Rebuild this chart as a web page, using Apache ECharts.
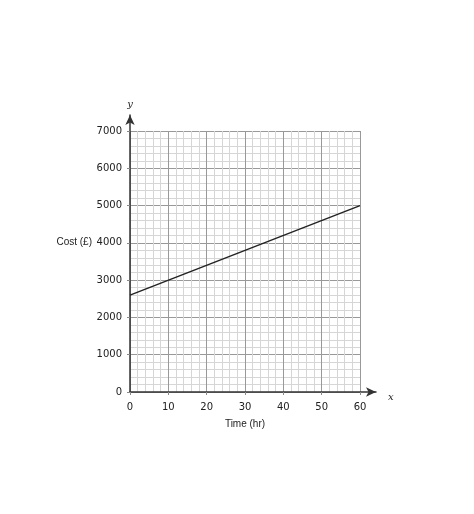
<!DOCTYPE html>
<html>
<head>
<meta charset="utf-8">
<script src="https://cdn.jsdelivr.net/npm/echarts@6/dist/echarts.min.js"></script>
<style>
html,body{margin:0;padding:0;background:#fff;}
#c{width:474px;height:514px;}
</style>
</head>
<body>
<div id="c"></div>
<script>
const xName = 'Time (hr)';
const yName = 'Cost (£)';
const xMin = 0, xMax = 60, xStep = 10;
const yMin = 0, yMax = 7000, yStep = 1000;
const timeHr = [0, 60];
const costGBP = [2600, 5000];

const chart = echarts.init(document.getElementById('c'));
const tickFont = {fontFamily: 'DejaVu Sans', fontSize: 10, color: '#222'};
const nameFont = {fontFamily: 'Liberation Sans', fontSize: 10, color: '#222'};
const italicFont = {fontFamily: 'DejaVu Serif', fontStyle: 'italic', fontSize: 10, color: '#222'};

chart.setOption({
  animation: false,
  backgroundColor: '#fff',
  grid: [
    {left: 130, right: 114, top: 131, bottom: 122},
    {left: 130, right: 98, top: 115, bottom: 122}
  ],
  xAxis: [{
    type: 'value', gridIndex: 0, min: xMin, max: xMax, interval: xStep,
    name: xName, nameLocation: 'middle', nameGap: 27, nameTextStyle: nameFont,
    axisLine: {show: false},
    axisTick: {show: true, length: 3, lineStyle: {color: '#888'}},
    axisLabel: Object.assign({margin: 10, formatter: v => String(v)}, tickFont),
    splitLine: {show: true, lineStyle: {color: '#999', width: 1}},
    minorTick: {show: false, splitNumber: 5},
    minorSplitLine: {show: true, lineStyle: {color: '#d6d6d6', width: 1}}
  }, {
    type: 'value', gridIndex: 1, min: 0, max: 1,
    name: 'x', nameLocation: 'end', nameGap: 12,
    nameTextStyle: Object.assign({verticalAlign: 'top', padding: [0, 0, 0, 0]}, italicFont),
    axisLine: {show: true, symbol: ['none', 'arrow'], symbolSize: [7, 10], lineStyle: {color: '#333', width: 1.5}},
    axisTick: {show: false}, axisLabel: {show: false}, splitLine: {show: false}
  }],
  yAxis: [{
    type: 'value', gridIndex: 0, min: yMin, max: yMax, interval: yStep,
    axisLine: {show: false},
    axisTick: {show: true, length: 3, lineStyle: {color: '#888'}},
    axisLabel: Object.assign({margin: 8, formatter: v => String(v)}, tickFont),
    splitLine: {show: true, lineStyle: {color: '#999', width: 1}},
    minorTick: {show: false, splitNumber: 5},
    minorSplitLine: {show: true, lineStyle: {color: '#d6d6d6', width: 1}}
  }, {
    type: 'value', gridIndex: 1, min: 0, max: 1,
    name: 'y', nameLocation: 'end', nameGap: 6, nameTextStyle: italicFont,
    axisLine: {show: true, symbol: ['none', 'arrow'], symbolSize: [7, 10], lineStyle: {color: '#333', width: 1.5}},
    axisTick: {show: false}, axisLabel: {show: false}, splitLine: {show: false}
  }],
  series: [{
    type: 'line', xAxisIndex: 0, yAxisIndex: 0,
    data: timeHr.map((t, i) => [t, costGBP[i]]),
    symbol: 'none', z: 5,
    lineStyle: {color: '#222', width: 1.4}
  }]
});

// y-axis title placed level with the 4000 tick, left of the tick labels
const anchor = chart.convertToPixel({xAxisIndex: 0, yAxisIndex: 0}, [xMin, 4000]);
chart.setOption({
  graphic: [{
    type: 'text', x: anchor[0] - 38, y: anchor[1] - 1,
    style: Object.assign({text: yName, align: 'right', verticalAlign: 'middle',
      fill: '#222', font: '10px "Liberation Sans"'})
  }]
});
</script>
</body>
</html>
